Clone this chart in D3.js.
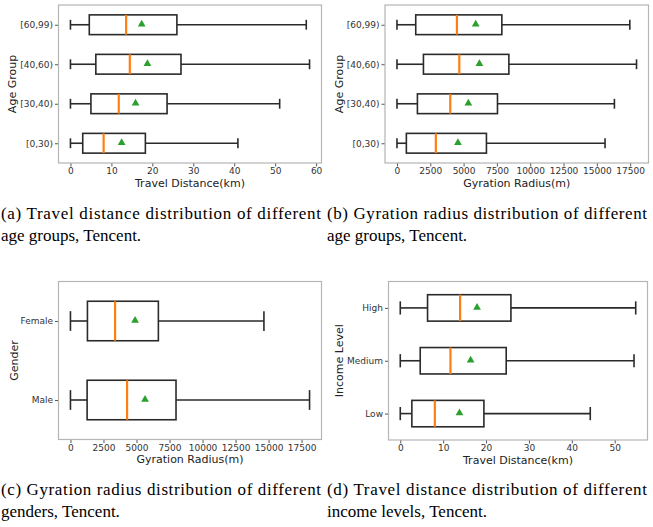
<!DOCTYPE html>
<html>
<head>
<meta charset="utf-8">
<script src="https://cdn.jsdelivr.net/npm/d3@7"></script>
<style>
  body { margin: 0; background: #fff; }
  svg { display: block; }
  .tick text { font-family: "DejaVu Sans", sans-serif; font-size: 9px; fill: #333; }
  .tick line { stroke: #555; }
  .axis-title { font-family: "DejaVu Sans", sans-serif; font-size: 11px; fill: #222; }
  .caption { font-family: "Liberation Serif", serif; font-size: 17px; fill: #000; }
</style>
</head>
<body>
<svg width="653" height="527"></svg>
<script>
// categories, bottom to top
const ageGroups = ["[0,30)", "[30,40)", "[40,60)", "[60,99)"];
const genders = ["Male", "Female"];
const incomeLevels = ["Low", "Medium", "High"];

// (a) travel distance by age group (km)
const ageTravelLo = [0, 0, 0, 0];
const ageTravelQ1 = [3.0, 5.0, 6.2, 4.6];
const ageTravelMed = [8.1, 11.8, 14.5, 13.6];
const ageTravelMean = [12.5, 15.9, 18.8, 17.4];
const ageTravelQ3 = [18.3, 23.6, 27.0, 26.0];
const ageTravelHi = [40.9, 51.1, 58.4, 57.6];

// (b) gyration radius by age group (m)
const ageGyrLo = [0, 0, 0, 0];
const ageGyrQ1 = [704, 1534, 1986, 1408];
const ageGyrMed = [2917, 3998, 4677, 4501];
const ageGyrMean = [4576, 5356, 6186, 5909];
const ageGyrQ3 = [6714, 7543, 8398, 7870];
const ageGyrHi = [15615, 16319, 17978, 17475];

// (c) gyration radius by gender (m)
const genderGyrLo = [0, 0];
const genderGyrQ1 = [1261, 1286];
const genderGyrMed = [4287, 3379];
const genderGyrMean = [5648, 4892];
const genderGyrQ3 = [7993, 6657];
const genderGyrHi = [18104, 14650];

// (d) travel distance by income level (km)
const incomeTravelLo = [0, 0, 0];
const incomeTravelQ1 = [2.7, 4.65, 6.36];
const incomeTravelMed = [8.06, 11.7, 13.95];
const incomeTravelMean = [13.8, 16.4, 17.9];
const incomeTravelQ3 = [19.5, 24.7, 25.8];
const incomeTravelHi = [44.3, 54.5, 54.9];

const distTicks = [0, 10, 20, 30, 40, 50, 60];
const distTicksD = [0, 10, 20, 30, 40, 50];
const gyrTicks = [0, 2500, 5000, 7500, 10000, 12500, 15000, 17500];

const svg = d3.select("svg");

function boxPanel(p) {
  const g = svg.append("g");
  const n = p.cats.length;
  const maxV = d3.max(p.hi);
  const x = d3.scaleLinear()
    .domain([-0.05 * maxV, maxV * 1.05])
    .range([p.left, p.right]);
  const y = d3.scaleLinear()
    .domain([0.5, n + 0.5])
    .range([p.bottom, p.top]);
  const step = Math.abs(y(1) - y(2));
  const boxH = step * 0.5;
  const capH = boxH * 0.5;

  const rows = p.cats.map((c, i) => ({
    cat: c, pos: i + 1,
    lo: p.lo[i], q1: p.q1[i], med: p.med[i], mean: p.mean[i], q3: p.q3[i], hi: p.hi[i]
  }));

  // axes
  g.append("g")
    .attr("transform", `translate(0,${p.bottom})`)
    .call(d3.axisBottom(x).tickValues(p.ticks).tickFormat(d3.format("d"))
      .tickSize(3.5).tickPadding(1.5).tickSizeOuter(0))
    .call(a => a.select(".domain").remove());
  g.append("g")
    .attr("transform", `translate(${p.left},0)`)
    .call(d3.axisLeft(y).tickValues(rows.map(r => r.pos))
      .tickFormat((d, i) => p.cats[i]).tickSize(3.5).tickPadding(2).tickSizeOuter(0))
    .call(a => a.select(".domain").remove());

  g.append("rect")
    .attr("x", p.left).attr("y", p.top)
    .attr("width", p.right - p.left).attr("height", p.bottom - p.top)
    .attr("fill", "none").attr("stroke", "#b5b5b5").attr("stroke-width", 1.2);

  const box = g.selectAll(".box").data(rows).enter().append("g").attr("class", "box");
  const ink = "#2a2a2a";
  // whiskers
  box.append("line")
    .attr("x1", d => x(d.lo)).attr("x2", d => x(d.q1))
    .attr("y1", d => y(d.pos)).attr("y2", d => y(d.pos))
    .attr("stroke", ink).attr("stroke-width", 1.6);
  box.append("line")
    .attr("x1", d => x(d.q3)).attr("x2", d => x(d.hi))
    .attr("y1", d => y(d.pos)).attr("y2", d => y(d.pos))
    .attr("stroke", ink).attr("stroke-width", 1.6);
  // caps
  box.selectAll(".cap").data(d => [[d.lo, d.pos], [d.hi, d.pos]]).enter().append("line")
    .attr("x1", d => x(d[0])).attr("x2", d => x(d[0]))
    .attr("y1", d => y(d[1]) - capH / 2).attr("y2", d => y(d[1]) + capH / 2)
    .attr("stroke", ink).attr("stroke-width", 1.6);
  // box
  box.append("rect")
    .attr("x", d => x(d.q1)).attr("width", d => x(d.q3) - x(d.q1))
    .attr("y", d => y(d.pos) - boxH / 2).attr("height", boxH)
    .attr("fill", "none").attr("stroke", ink).attr("stroke-width", 1.6);
  // median
  box.append("line")
    .attr("x1", d => x(d.med)).attr("x2", d => x(d.med))
    .attr("y1", d => y(d.pos) - boxH / 2).attr("y2", d => y(d.pos) + boxH / 2)
    .attr("stroke", "#ff7f0e").attr("stroke-width", 2.2);
  // mean
  box.append("path")
    .attr("d", d3.symbol(d3.symbolTriangle, 26))
    .attr("transform", d => `translate(${x(d.mean)},${y(d.pos) - 0.5})`)
    .attr("fill", "#2ca02c");

  g.append("text").attr("class", "axis-title")
    .attr("x", (p.left + p.right) / 2).attr("y", p.bottom + 23.5)
    .attr("text-anchor", "middle").text(p.xTitle);
  g.append("text").attr("class", "axis-title")
    .attr("transform", `translate(${p.yTitleX},${(p.top + p.bottom) / 2}) rotate(-90)`)
    .attr("text-anchor", "middle").text(p.yTitle);

  const cap = g.append("text").attr("class", "caption");
  p.caption.forEach((line, i) => {
    const t = cap.append("tspan").attr("x", p.capX).attr("y", p.capY + i * 22).text(line);
    if (i === 0) t.attr("textLength", 320).attr("lengthAdjust", "spacing");
  });
}

boxPanel({
  cats: ageGroups, lo: ageTravelLo, q1: ageTravelQ1, med: ageTravelMed,
  mean: ageTravelMean, q3: ageTravelQ3, hi: ageTravelHi, ticks: distTicks,
  left: 58.5, right: 321.5, top: 5, bottom: 163,
  xTitle: "Travel Distance(km)", yTitle: "Age Group", yTitleX: 16,
  caption: ["(a)  Travel distance distribution of different", "age groups, Tencent."],
  capX: 1, capY: 219
});
boxPanel({
  cats: ageGroups, lo: ageGyrLo, q1: ageGyrQ1, med: ageGyrMed,
  mean: ageGyrMean, q3: ageGyrQ3, hi: ageGyrHi, ticks: gyrTicks,
  left: 385, right: 648.5, top: 5, bottom: 163,
  xTitle: "Gyration Radius(m)", yTitle: "Age Group", yTitleX: 343,
  caption: ["(b)  Gyration radius distribution of different", "age groups, Tencent."],
  capX: 327, capY: 219
});
boxPanel({
  cats: genders, lo: genderGyrLo, q1: genderGyrQ1, med: genderGyrMed,
  mean: genderGyrMean, q3: genderGyrQ3, hi: genderGyrHi, ticks: gyrTicks,
  left: 58.5, right: 321.5, top: 281.5, bottom: 439.5,
  xTitle: "Gyration Radius(m)", yTitle: "Gender", yTitleX: 18,
  caption: ["(c)  Gyration radius distribution of different", "genders, Tencent."],
  capX: 1, capY: 495
});
boxPanel({
  cats: incomeLevels, lo: incomeTravelLo, q1: incomeTravelQ1, med: incomeTravelMed,
  mean: incomeTravelMean, q3: incomeTravelQ3, hi: incomeTravelHi, ticks: distTicksD,
  left: 388.5, right: 647.5, top: 281.5, bottom: 440,
  xTitle: "Travel Distance(km)", yTitle: "Income Level", yTitleX: 343,
  caption: ["(d)  Travel distance distribution of different", "income levels, Tencent."],
  capX: 327, capY: 495
});
</script>
</body>
</html>
